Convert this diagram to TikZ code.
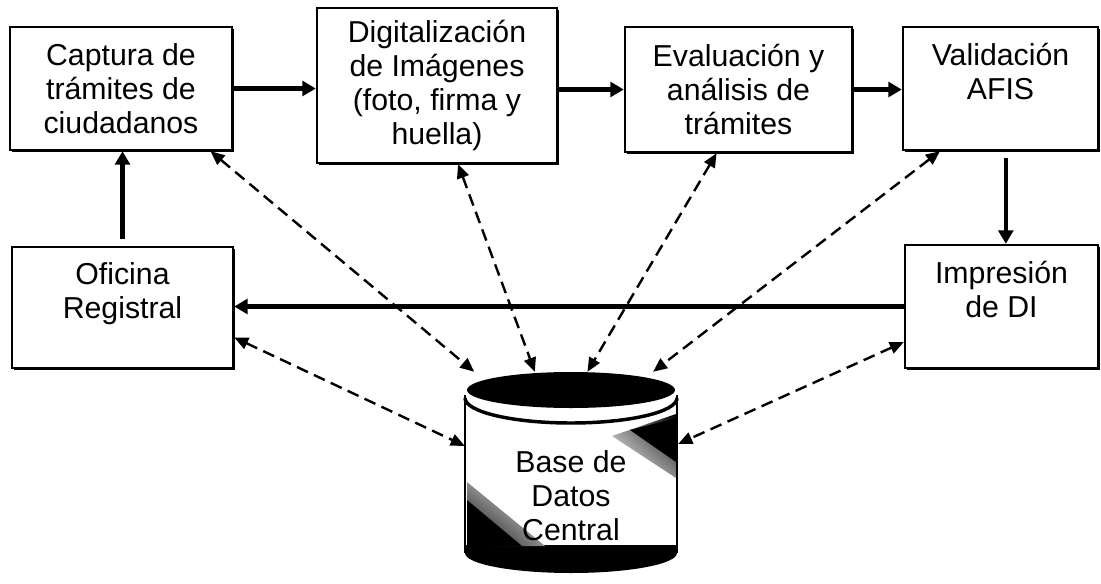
\documentclass[tikz,border=0pt]{standalone}
\usepackage{fontspec}
\setmainfont{Liberation Sans}
\usetikzlibrary{arrows.meta,shadows,shadings}

\begin{document}
\begin{tikzpicture}[
  x=0.75pt, y=-0.75pt,
  font=\fontsize{22.7pt}{25.5pt}\selectfont,
  box/.style={draw, line width=1.8pt, fill=white, align=center, inner sep=0pt,
    drop shadow={shadow xshift=1.2pt, shadow yshift=-1.6pt, fill=black, opacity=1}},
  flow/.style={-{Triangle[length=10pt, width=11pt]}, line width=3.4pt},
  link/.style={{Triangle[length=10.5pt, width=9pt]}-{Triangle[length=10.5pt, width=9pt]},
    line width=1.8pt, dash pattern=on 9pt off 5pt}
]
\useasboundingbox (0,0) rectangle (1101,583);
% process boxes
\node[box, minimum width=166.5pt, minimum height=92.25pt] (capt) at (121,88.5) {Captura de\\trámites de\\ciudadanos};
\node[box, minimum width=180pt, minimum height=116.25pt] (digit) at (437,85.5) {Digitalización\\de Imágenes\\(foto, firma y\\huella)};
\node[box, minimum width=170.25pt, minimum height=93.75pt] (eval) at (738.5,89.5) {Evaluación y\\análisis de\\trámites};
\node[box, minimum width=146.25pt, minimum height=92.25pt] (valid) at (1000.5,88.5) {Validación\\AFIS\\\mbox{}};
\node[box, minimum width=165.75pt, minimum height=90.75pt] (ofic) at (122.5,307.5) {Oficina\\Registral\\\mbox{}};
\node[box, minimum width=144.75pt, minimum height=92.25pt] (impr) at (1001.5,306.5) {Impresión\\de DI\\\mbox{}};
% database
\fill[white] (465,395) rectangle (677,553);
\fill (677,553) arc[start angle=0, end angle=180, x radius=106, y radius=20] -- (465,545) -- (677,545) -- cycle;
\shade[lower left=black, upper right=white, upper left=black!45, lower right=black!45] (467,482) -- (467,546) -- (545,546) -- cycle;
\fill (467,500) -- (467,546) -- (522,546) -- cycle;
\shade[upper right=black, lower left=white, upper left=black!45, lower right=black!45] (612,436) -- (676,414) -- (676,478) -- cycle;
\fill (630,430) -- (676,418) -- (676,462) -- cycle;
\draw[line width=2pt] (465,395) -- (465,553) (677,395) -- (677,553);
\draw[line width=2.6pt] (465,398) arc[start angle=180, end angle=0, x radius=106, y radius=25];
\fill (571,390) ellipse[x radius=104, y radius=18];
\node[minimum width=159.75pt, minimum height=150.75pt, inner sep=0pt] (db) at (571.5,472.5) {};
\node[align=center] (dbtext) at (571,496) {Base de\\Datos\\Central};
% process flow
\draw[flow] (capt.east) -- (capt.east -| digit.west);
\draw[flow] (eval.west -| digit.east) -- (eval.west);
\draw[flow] (eval.east) -- (eval.east -| valid.west);
\draw[flow, shorten <=5pt] ([xshift=4pt]valid.south) -- ([xshift=4pt]valid.south |- impr.north);
\draw[flow] (impr.west) -- (impr.west -| ofic.east);
\draw[flow, shorten <=5pt] (ofic.north) -- (ofic.north |- capt.south);
% database access
\draw[link] (capt.-35) -- (db.134);
\draw[link] (digit.-75) -- (db.110);
\draw[link] (eval.-109) -- (db.81);
\draw[link] (valid.-134) -- (db.51);
\draw[link] (ofic.-15) -- (db.166);
\draw[link] (impr.200) -- (db.15);
\end{tikzpicture}
\end{document}
